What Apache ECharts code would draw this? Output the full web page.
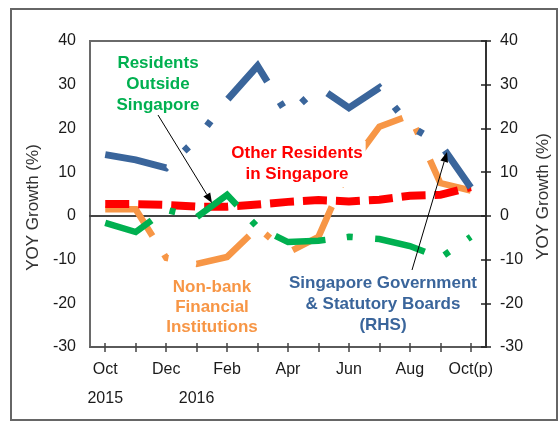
<!DOCTYPE html>
<html>
<head>
<meta charset="utf-8">
<script src="https://cdn.jsdelivr.net/npm/echarts@6/dist/echarts.min.js"></script>
<style>
html,body{margin:0;padding:0;background:#fff;}
#chart{width:560px;height:421px;}
</style>
</head>
<body>
<div id="chart"></div>
<script>
// ---- data ----
const categories = ['Oct 2015','Nov 2015','Dec 2015','Jan 2016','Feb 2016','Mar 2016','Apr 2016','May 2016','Jun 2016','Jul 2016','Aug 2016','Sep 2016','Oct 2016 (p)'];
const tickLabels = ['Oct\n2015','','Dec','\n2016','Feb','','Apr','','Jun','','Aug','','Oct(p)'];
const yTicks = { min: -30, max: 40, interval: 10 };
const nonBank = [1.5, 1.5, -9.6, -11, -9.4, -2.7, -8.4, -4.8, 11, 20.4, 23, 7.5, 5.8];
const otherResidents = [2.7, 2.7, 2.5, 2.1, 2.1, 2.6, 3.2, 3.6, 3.3, 3.7, 4.6, 4.8, 6.6];
const residentsOutside = [-1.6, -3.7, 1.4, -0.3, 4.8, -2.6, -6, -5.7, -4.8, -5.3, -6.9, -9.6, -4.8];
const govtRHS = [14, 12.8, 11, 17.5, 26.5, 34.3, 23, 29.5, 24.7, 29.3, 20.5, 16.5, 6.5];

const FONT = "'Liberation Sans', Arial, sans-serif";
const C_BLUE = '#3a659b', C_ORANGE = '#f79646', C_GREEN = '#00b050', C_RED = '#ff0000';

const chart = echarts.init(document.getElementById('chart'), null, {renderer: 'canvas'});

function lineSeries(name, data, color, width, dash, yIdx, z) {
  return {
    name, type: 'line', data, yAxisIndex: yIdx, xAxisIndex: 0,
    symbol: 'none', smooth: false, z,
    lineStyle: { color, width, type: dash, cap: 'butt', join: 'miter' },
    emphasis: { disabled: true }, silent: true
  };
}

const option = {
  animation: false,
  backgroundColor: '#fff',
  grid: { left: 90, right: 69, top: 41, bottom: 74, show: true, borderColor: '#6a6a6a', borderWidth: 2, backgroundColor: 'transparent' },
  xAxis: [
    {
      type: 'category', data: categories, position: 'bottom', boundaryGap: true,
      axisLine: { show: true, onZero: false, lineStyle: { color: '#555', width: 1.5 } },
      axisTick: { show: true, alignWithLabel: true, interval: 0, length: 5, lineStyle: { color: '#444', width: 1.5 } },
      axisLabel: { interval: 0, formatter: (v, i) => tickLabels[i], fontFamily: FONT, fontSize: 16, lineHeight: 29, color: '#1a1a1a', margin: 8 },
      splitLine: { show: false }
    },
    {
      type: 'category', data: categories, position: 'bottom', boundaryGap: true,
      axisLine: { show: false, onZero: false },
      axisTick: { show: true, inside: true, alignWithLabel: true, interval: 0, length: 4, lineStyle: { color: '#444', width: 1.5 } },
      axisLabel: { show: false }, splitLine: { show: false }
    },
    {
      type: 'category', data: categories, boundaryGap: true,
      axisLine: { show: true, onZero: true, onZeroAxisIndex: 0, lineStyle: { color: '#444', width: 2 } },
      axisTick: { show: false }, axisLabel: { show: false }, splitLine: { show: false }
    }
  ],
  yAxis: [
    {
      type: 'value', position: 'left', min: yTicks.min, max: yTicks.max, interval: yTicks.interval,
      axisLine: { show: true, lineStyle: { color: '#6a6a6a', width: 2 } },
      axisTick: { show: false }, splitLine: { show: false },
      axisLabel: { fontFamily: FONT, fontSize: 16, color: '#1a1a1a', margin: 14 },
      name: 'YOY Growth (%)', nameLocation: 'middle', nameRotate: 90, nameGap: 40,
      nameTextStyle: { fontFamily: FONT, fontSize: 17, color: '#333', padding: [0, 27, 0, 0] }
    },
    {
      type: 'value', position: 'right', min: yTicks.min, max: yTicks.max, interval: yTicks.interval,
      axisLine: { show: true, lineStyle: { color: '#222', width: 1.5 } },
      axisTick: { show: true, length: 5, lineStyle: { color: '#222', width: 1.5 } }, splitLine: { show: false },
      axisLabel: { fontFamily: FONT, fontSize: 16, color: '#1a1a1a', margin: 14 },
      name: 'YOY Growth (%)', nameLocation: 'middle', nameRotate: 90, nameGap: 49,
      nameTextStyle: { fontFamily: FONT, fontSize: 17, color: '#333', padding: [0, 5, 0, 0] }
    },
    {
      type: 'value', position: 'right', min: yTicks.min, max: yTicks.max, interval: yTicks.interval,
      axisLine: { show: false },
      axisTick: { show: true, inside: true, length: 5, lineStyle: { color: '#222', width: 1.5 } },
      axisLabel: { show: false }, splitLine: { show: false }
    }
  ],
  series: [
    lineSeries('Non-bank Financial Institutions', nonBank, C_ORANGE, 6.5, [62, 22, 6, 28.5], 0, 2),
    lineSeries('Other Residents in Singapore', otherResidents, C_RED, 8, [24, 9], 0, 3),
    lineSeries('Residents Outside Singapore', residentsOutside, C_GREEN, 6.5, [51.5, 21.5, 6, 22.5], 0, 4),
    lineSeries('Singapore Government & Statutory Boards (RHS)', govtRHS, C_BLUE, 7, [63, 24, 6, 28, 6, 28], 1, 5)
  ],
  graphic: [
    { type: 'rect', z: 200, silent: true, shape: { x: 11, y: 9, width: 546, height: 411 }, style: { fill: 'none', stroke: '#666', lineWidth: 2 } },
    { type: 'text', z: 100, x: 158, y: 84, silent: true,
      style: { text: 'Residents\nOutside\nSingapore', fill: C_GREEN, font: "bold 17px " + FONT, align: 'center', verticalAlign: 'middle', lineHeight: 21 } },
    { type: 'text', z: 100, x: 297, y: 164, silent: true,
      style: { text: 'Other Residents\nin Singapore', fill: C_RED, font: "bold 17px " + FONT, align: 'center', verticalAlign: 'middle', lineHeight: 21, backgroundColor: '#fff', padding: [1, 3, 3, 3] } },
    { type: 'text', z: 100, x: 212, y: 307, silent: true,
      style: { text: 'Non-bank\nFinancial\nInstitutions', fill: C_ORANGE, font: "bold 17px " + FONT, align: 'center', verticalAlign: 'middle', lineHeight: 20 } },
    { type: 'text', z: 100, x: 383, y: 304, silent: true,
      style: { text: 'Singapore Government\n& Statutory Boards\n(RHS)', fill: C_BLUE, font: "bold 17px " + FONT, align: 'center', verticalAlign: 'middle', lineHeight: 21 } },
    { type: 'line', z: 100, silent: true, shape: { x1: 158, y1: 115, x2: 206.8, y2: 194.5 }, style: { stroke: '#000', lineWidth: 1 } },
    { type: 'polygon', z: 100, silent: true, shape: { points: [[212, 203], [203.4, 196.6], [210.2, 192.4]] }, style: { fill: '#000' } },
    { type: 'line', z: 100, silent: true, shape: { x1: 412, y1: 270, x2: 444.2, y2: 161.6 }, style: { stroke: '#000', lineWidth: 1 } },
    { type: 'polygon', z: 100, silent: true, shape: { points: [[447, 152], [448, 162.7], [440.4, 160.5]] }, style: { fill: '#000' } }
  ]
};
chart.setOption(option);
</script>
</body>
</html>
